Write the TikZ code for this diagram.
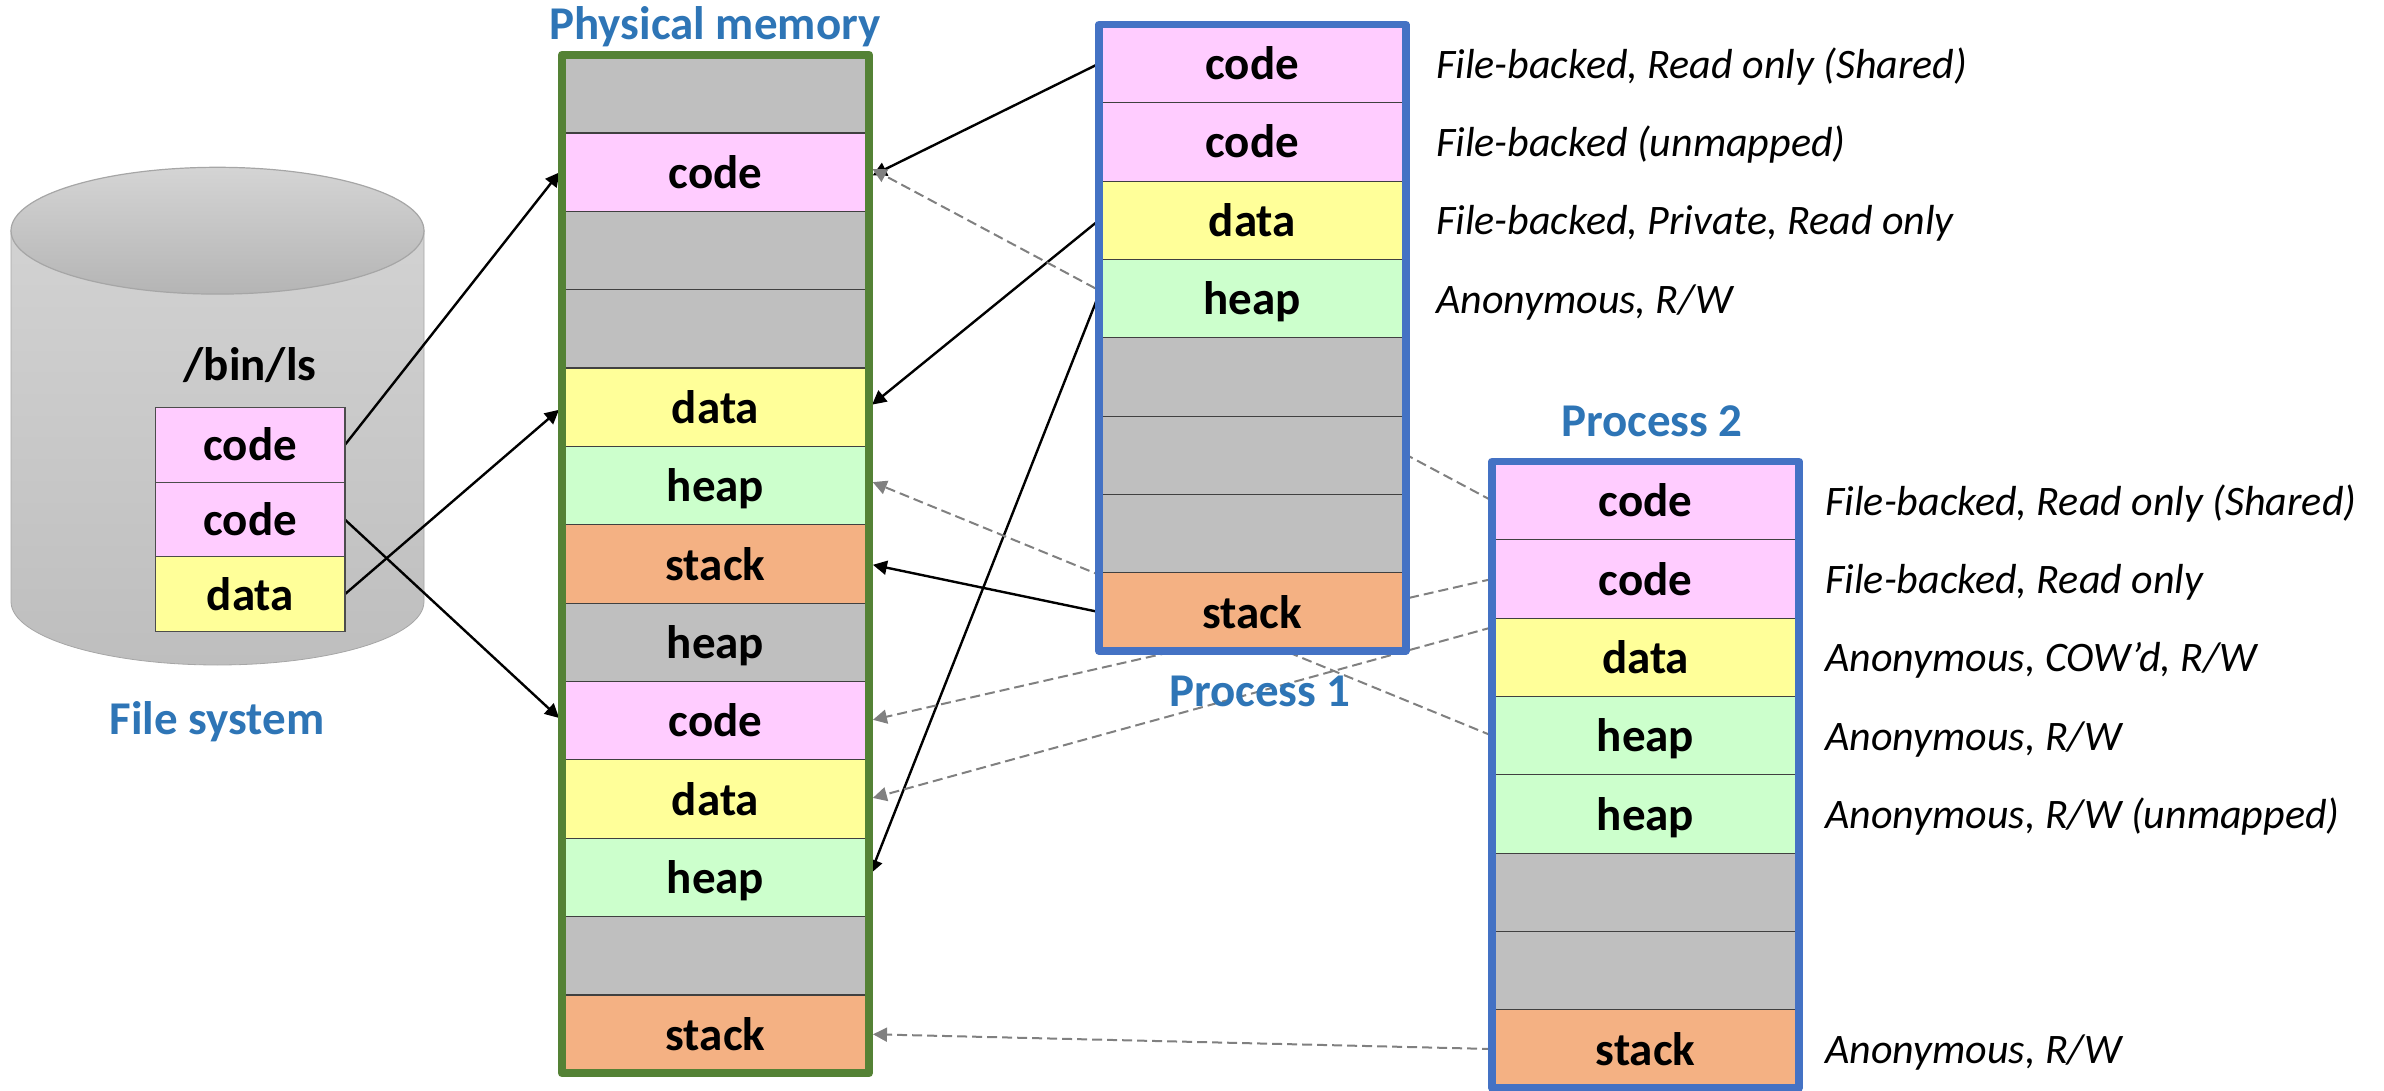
\documentclass[tikz,border=0pt]{standalone}
\usepackage{fontspec}
\setmainfont{Carlito}
\usepackage{tikz}
\usetikzlibrary{arrows.meta,calc,backgrounds}
\definecolor{codec}{HTML}{FFCCFF}
\definecolor{datac}{HTML}{FFFF99}
\definecolor{heapc}{HTML}{CCFFCC}
\definecolor{stackc}{HTML}{F4B183}
\definecolor{gapc}{HTML}{BFBFBF}
\definecolor{pmgreen}{HTML}{548235}
\definecolor{procblue}{HTML}{4472C4}
\definecolor{titleblue}{HTML}{2E75B6}
\definecolor{dashgray}{HTML}{808080}
\definecolor{cyltop}{HTML}{D2D2D2}
\definecolor{cylbot}{HTML}{BEBEBE}
\definecolor{cylline}{HTML}{A6A6A6}

\tikzset{
  cell/.style={draw=black!75, line width=0.6pt, fill=gapc, minimum width=153.5pt, minimum height=39.17pt,
    inner sep=0pt, outer sep=0pt, text height=16pt, text depth=0pt, font=\fontsize{23.5}{28}\selectfont\bfseries},
  fscell/.style={cell, minimum width=94.6pt, minimum height=37.35pt, draw=black!70},
  pmframe/.style={draw=pmgreen, line width=4pt, line join=round},
  pframe/.style={draw=procblue, line width=3.75pt, line join=round},
  ttl/.style={anchor=base, inner sep=0pt, text=titleblue, font=\fontsize{23.5}{28}\selectfont\bfseries},
  desc/.style={anchor=base west, inner sep=0pt, font=\fontsize{21}{25}\selectfont\itshape},
  map/.style={-{Triangle[length=7pt,width=7pt]}, line width=1.2pt, shorten >=2pt},
  share/.style={map, dashgray, line width=1pt, dash pattern=on 5pt off 2.5pt},
}

\begin{document}
\begin{tikzpicture}[x=0.5pt, y=0.5pt, yscale=-1]
\useasboundingbox (0,0) rectangle (2384,1091);

% file on disk
\node[fscell, fill=codec] (fs0) at (250.3,444.9) {code};
\node[fscell, fill=codec] (fs1) at (250.3,519.6) {code};
\node[fscell, fill=datac] (fs2) at (250.3,594.2) {data};
\node[ttl, text=black] (bin) at (250,380) {/bin/ls};
\node[ttl] (fst) at (217,734) {File system};

% physical memory
\node[cell] (pm0) at (715.5,93.8) {};
\node[cell, fill=codec] (pm1) at (715.5,172.2) {code};
\node[cell] (pm2) at (715.5,250.5) {}; \node[cell] (pm3) at (715.5,328.9) {};
\node[cell, fill=datac] (pm4) at (715.5,407.2) {data};
\node[cell, fill=heapc] (pm5) at (715.5,485.6) {heap};
\node[cell, fill=stackc] (pm6) at (715.5,564) {stack};
\node[cell] (pm7) at (715.5,642.3) {heap};
\node[cell, fill=codec] (pm8) at (715.5,720.7) {code};
\node[cell, fill=datac] (pm9) at (715.5,799) {data};
\node[cell, fill=heapc] (pm10) at (715.5,877.4) {heap};
\node[cell] (pm11) at (715.5,955.8) {};
\node[cell, fill=stackc] (pm12) at (715.5,1034.2) {stack};
\draw[pmframe] (pm0.north west) rectangle (pm12.south east);
\node[ttl] (pmt) at (715,39.3) {Physical memory};

% process 1
\node[cell, fill=codec] (pa0) at (1252.3,63.7) {code};
\node[cell, fill=codec] (pa1) at (1252.3,142) {code};
\node[cell, fill=datac] (pa2) at (1252.3,220.3) {data};
\node[cell, fill=heapc] (pa3) at (1252.3,298.7) {heap};
\node[cell] (pa4) at (1252.3,377) {}; \node[cell] (pa5) at (1252.3,455.3) {}; \node[cell] (pa6) at (1252.3,533.7) {};
\node[cell, fill=stackc] (pa7) at (1252.3,612) {stack};
\draw[pframe] (pa0.north west) rectangle (pa7.south east);
\node[ttl] (p1t) at (1260,706) {Process 1};
\node[desc] (da0) at ($(pa0.east)+(30,14.6)$) {File-backed, Read only (Shared)};
\node[desc] (da1) at ($(pa1.east)+(30,14.6)$) {File-backed (unmapped)};
\node[desc] (da2) at ($(pa2.east)+(30,14.6)$) {File-backed, Private, Read only};
\node[desc] (da3) at ($(pa3.east)+(30,14.6)$) {Anonymous, R/W};

% process 2
\node[cell, fill=codec] (pb0) at (1645.5,500.7) {code};
\node[cell, fill=codec] (pb1) at (1645.5,579) {code};
\node[cell, fill=datac] (pb2) at (1645.5,657.3) {data};
\node[cell, fill=heapc] (pb3) at (1645.5,735.7) {heap};
\node[cell, fill=heapc] (pb4) at (1645.5,814) {heap};
\node[cell] (pb5) at (1645.5,892.3) {}; \node[cell] (pb6) at (1645.5,970.7) {};
\node[cell, fill=stackc] (pb7) at (1645.5,1049) {stack};
\draw[pframe] (pb0.north west) rectangle (pb7.south east);
\node[ttl] (p2t) at (1652,437) {Process 2};
\node[desc] (db0) at ($(pb0.east)+(26,14.6)$) {File-backed, Read only (Shared)};
\node[desc] (db1) at ($(pb1.east)+(26,14.6)$) {File-backed, Read only};
\node[desc] (db2) at ($(pb2.east)+(26,14.6)$) {Anonymous, COW’d, R/W};
\node[desc] (db3) at ($(pb3.east)+(26,14.6)$) {Anonymous, R/W};
\node[desc] (db4) at ($(pb4.east)+(26,14.6)$) {Anonymous, R/W (unmapped)};
\node[desc] (db7) at ($(pb7.east)+(26,14.6)$) {Anonymous, R/W};

\begin{scope}[on background layer]
% disk
\shade[top color=cyltop, bottom color=cylbot, draw=cylline, line width=0.4pt]
  (11,230.7) -- (11,601.6) arc[start angle=180, end angle=0, x radius=206.5, y radius=63.4] -- (424,230.7) -- cycle;
\shade[top color=cyltop!95!white, bottom color=cylbot!95!black, draw=cylline, line width=0.6pt]
  (217.5,230.7) ellipse[x radius=206.5, y radius=63.4];
% mappings
\draw[map] (fs0.east) -- ([yshift=-1.5pt]pm1.west);
\draw[map] (fs1.east) -- (pm8.west);
\draw[map] (fs2.east) -- (pm4.west);
\draw[map] (pa0.west) -- ([yshift=2.5pt]pm1.east);
\draw[map] (pa2.west) -- (pm4.east);
\draw[map] ([yshift=-2pt]pa3.west) -- (pm10.east);
\draw[map] (pa7.west) -- (pm6.east);
\draw[share] (pb0.west) -- ([yshift=-2.5pt]pm1.east);
\draw[share] (pb1.west) -- (pm8.east);
\draw[share] ([yshift=-15pt]pb2.west) -- (pm9.east);
\draw[share] (pb3.west) -- ([yshift=-2.5pt]pm5.east);
\draw[share] (pb7.west) -- (pm12.east);
\end{scope}
\end{tikzpicture}
\end{document}
